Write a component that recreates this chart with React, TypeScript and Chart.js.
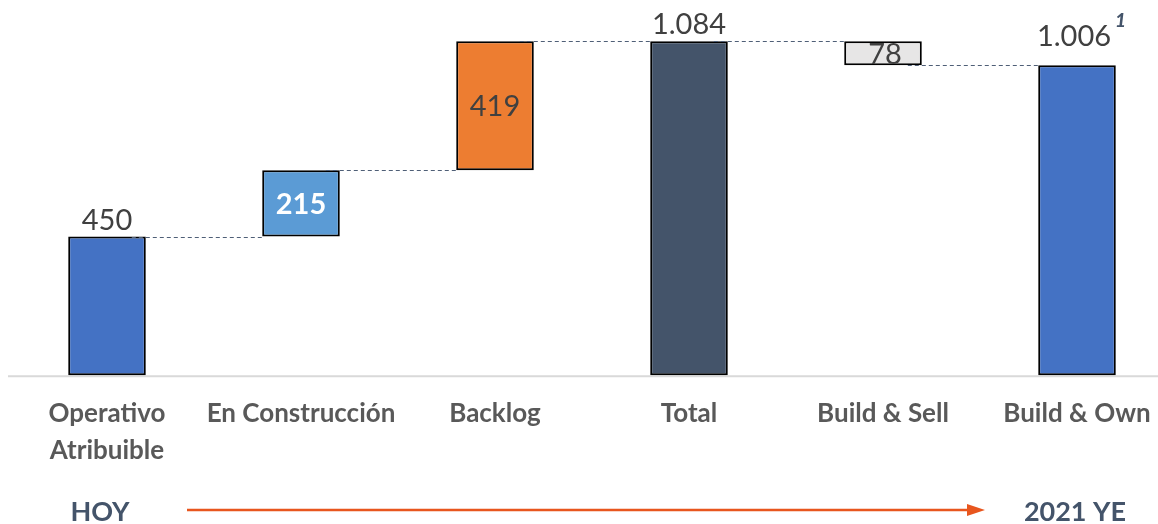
import React, { useEffect, useRef } from "react";
import { Chart, registerables } from "chart.js";

Chart.register(...registerables);

const categories: (string | string[])[] = [
  ["Operativo", "Atribuible"],
  "En Construcción",
  "Backlog",
  "Total",
  "Build & Sell",
  "Build & Own",
];
const barStart = [0, 450, 665, 0, 1006, 0];
const barEnd = [450, 665, 1084, 1084, 1084, 1006];
const valueLabels = ["450", "215", "419", "1.084", "78", "1.006"];
const labelPlacement = ["above", "inside", "inside", "above", "inside", "above"];
const connectorLevels = [450, 665, 1084, 1084, 1006];
const barColors = ["#4472C4", "#5B9BD5", "#ED7D31", "#44546A", "#E7E6E6", "#4472C4"];
const labelColors = ["#404040", "#FFFFFF", "#404040", "#404040", "#404040", "#404040"];
const labelWeights = ["400", "700", "400", "400", "400", "400"];
const footnoteMark = "1";
const timelineStart = "HOY";
const timelineEnd = "2021 YE";

const FONT = "Lato, 'Open Sans', sans-serif";

const overlayPlugin = {
  id: "waterfallOverlay",
  beforeDatasetsDraw(chart: any) {
    const ctx = chart.ctx;
    const y0 = chart.scales.y.getPixelForValue(0);
    ctx.save();
    ctx.strokeStyle = "#D9D9D9";
    ctx.lineWidth = 2;
    ctx.beginPath();
    ctx.moveTo(8, y0 + 1);
    ctx.lineTo(chart.width, y0 + 1);
    ctx.stroke();
    ctx.restore();
  },
  afterDatasetsDraw(chart: any) {
    const ctx = chart.ctx;
    const yScale = chart.scales.y;
    const xScale = chart.scales.x;
    const bars = chart.getDatasetMeta(0).data;
    ctx.save();
    // connectors
    ctx.strokeStyle = "#4F5F77";
    ctx.lineWidth = 1.2;
    ctx.setLineDash([4, 3]);
    connectorLevels.forEach((lvl, i) => {
      const a = bars[i].getProps(["x", "width"], true);
      const b = bars[i + 1].getProps(["x", "width"], true);
      const y = Math.round(yScale.getPixelForValue(lvl)) + 0.5;
      ctx.beginPath();
      ctx.moveTo(a.x + a.width / 2 - 14, y);
      ctx.lineTo(b.x - b.width / 2, y);
      ctx.stroke();
    });
    ctx.setLineDash([]);

    // value labels
    valueLabels.forEach((txt, i) => {
      const p = bars[i].getProps(["x", "y", "base", "width"], true);
      const top = Math.min(p.y, p.base);
      const bottom = Math.max(p.y, p.base);
      ctx.font = `${labelWeights[i]} 29px ${FONT}`;
      ctx.fillStyle = labelColors[i];
      ctx.textAlign = "center";
      ctx.textBaseline = "alphabetic";
      if (labelPlacement[i] === "above") {
        const last = i === valueLabels.length - 1;
        const extra = last ? 12 : 0;
        ctx.fillText(txt, p.x - (last ? 3 : 0), top - 7 - extra);
        if (last) {
          const w = ctx.measureText(txt).width;
          ctx.font = `italic 900 19px ${FONT}`;
          ctx.fillStyle = "#44546A";
          ctx.textAlign = "left";
          ctx.fillText(footnoteMark, p.x - 3 + w / 2 + 4, top - 38);
        }
      } else {
        const mid = (top + bottom) / 2;
        ctx.fillText(txt, p.x + (i === 4 ? 2 : 0), mid + 10.5);
      }
    });

    // timeline
    const x0 = xScale.getPixelForValue(0);
    const x5 = xScale.getPixelForValue(categories.length - 1);
    const ty = 512;
    ctx.font = `700 27px ${FONT}`;
    ctx.fillStyle = "#44546A";
    ctx.textAlign = "center";
    ctx.textBaseline = "middle";
    ctx.fillText(timelineStart, x0 - 7, ty);
    ctx.fillText(timelineEnd, x5 - 2, ty);
    ctx.strokeStyle = "#E8561E";
    ctx.fillStyle = "#E8561E";
    ctx.lineWidth = 2.5;
    ctx.beginPath();
    ctx.moveTo(x0 + 80, ty - 2);
    ctx.lineTo(x5 - 102, ty - 2);
    ctx.stroke();
    ctx.beginPath();
    ctx.moveTo(x5 - 92, ty - 2);
    ctx.lineTo(x5 - 110, ty - 8);
    ctx.lineTo(x5 - 110, ty + 4);
    ctx.closePath();
    ctx.fill();
    ctx.restore();
  },
};

export default function App() {
  const ref = useRef<HTMLCanvasElement | null>(null);
  useEffect(() => {
    if (!ref.current) return;
    const chart = new Chart(ref.current, {
      type: "bar",
      data: {
        labels: categories as any,
        datasets: [
          {
            data: barStart.map((s, i) => [s, barEnd[i]]) as any,
            backgroundColor: barColors,
            borderColor: "#000000",
            borderWidth: 2,
            borderSkipped: false,
            categoryPercentage: 1,
            barPercentage: 0.4,
            clip: false as any,
          },
        ],
      },
      options: {
        animation: false,
        responsive: true,
        maintainAspectRatio: false,
        layout: { padding: { top: 5.5, bottom: 35, left: 107, right: 81 } },
        plugins: { legend: { display: false }, tooltip: { enabled: false } },
        scales: {
          x: {
            offset: false,
            grid: { display: false, drawTicks: false },
            border: { display: false },
            afterFit: (s: any) => {
              s.paddingLeft = 0;
              s.paddingRight = 0;
            },
            ticks: {
              padding: 20,
              color: "#595959",
              maxRotation: 0,
              autoSkip: false,
              font: { family: FONT, size: 26, weight: "bold", lineHeight: 1.42 },
            },
          },
          y: { display: false, min: 0, max: 1200 },
        },
      },
      plugins: [overlayPlugin],
    });
    return () => chart.destroy();
  }, []);
  return (
    <div style={{ position: "fixed", left: 0, top: 0, width: 1158, height: 524, background: "#fff" }}>
      <canvas ref={ref} />
    </div>
  );
}
